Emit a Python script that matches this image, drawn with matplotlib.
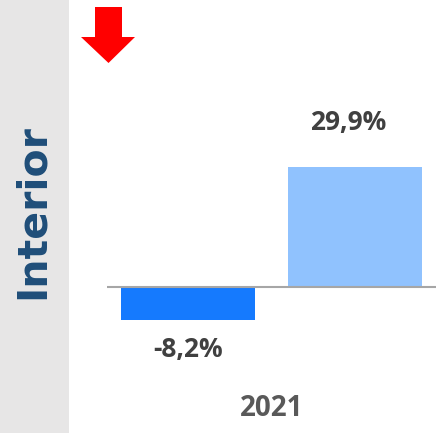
import matplotlib.pyplot as plt
from matplotlib.patches import Polygon, Rectangle

categories = ['2021 A', '2021 B']
values = [-8.2, 29.9]
labels = ['-8,2%', '29,9%']
bar_colors = ['#157AFE', '#90C2FE']
year = '2021'
section = 'Interior'

W, H = 436, 433
fig = plt.figure(figsize=(W / 100, H / 100), dpi=100)
fig.patch.set_facecolor('white')

# grey side panel with the section name
fig.patches.append(Rectangle((0, 0), 69 / W, 1, transform=fig.transFigure,
                             facecolor='#E7E6E6', edgecolor='none', zorder=0))
fig.text(33 / W, 1 - 212 / H, section, rotation=90, ha='center', va='center',
         fontsize=29.5, fontweight='bold', color='#1F4E79', family='DejaVu Sans')

# red down arrow
arrow_px = [(95, 7), (122, 7), (122, 37), (135, 37), (108.5, 63), (81, 37), (95, 37)]
fig.patches.append(Polygon([(x / W, 1 - y / H) for x, y in arrow_px], closed=True,
                           transform=fig.transFigure, facecolor='#FF0000',
                           edgecolor='none'))

# bar axes: 4.01 px per percentage point, baseline at y=287 px
ppu = 4.01
top_px, bot_px = 140, 340
ax = fig.add_axes([107 / W, 1 - bot_px / H, (W - 107) / W, (bot_px - top_px) / H])
ax.set_ylim(-(bot_px - 287) / ppu, (287 - top_px) / ppu)
spacing = 166.5
ax.set_xlim((107 - 188) / spacing, (W - 188) / spacing)
x = [0, 1]
ax.bar(x, values, width=134 / spacing, color=bar_colors, zorder=2)
ax.axhline(0, color='#A6A6A6', lw=1.5, zorder=3)
ax.axis('off')

for xi, v, lab in zip(x, values, labels):
    off = 11.2 if v > 0 else -7.5
    ax.text(xi - 0.04 if v > 0 else xi, v + off, lab, ha='center', va='center',
            fontsize=19, fontweight='bold', color='#404040', family='Open Sans')

fig.text(272 / W, 1 - 408 / H, year, ha='center', va='center', fontsize=20,
         fontweight='bold', color='#595959', family='Open Sans')

fig.savefig('out.png', dpi=100)
